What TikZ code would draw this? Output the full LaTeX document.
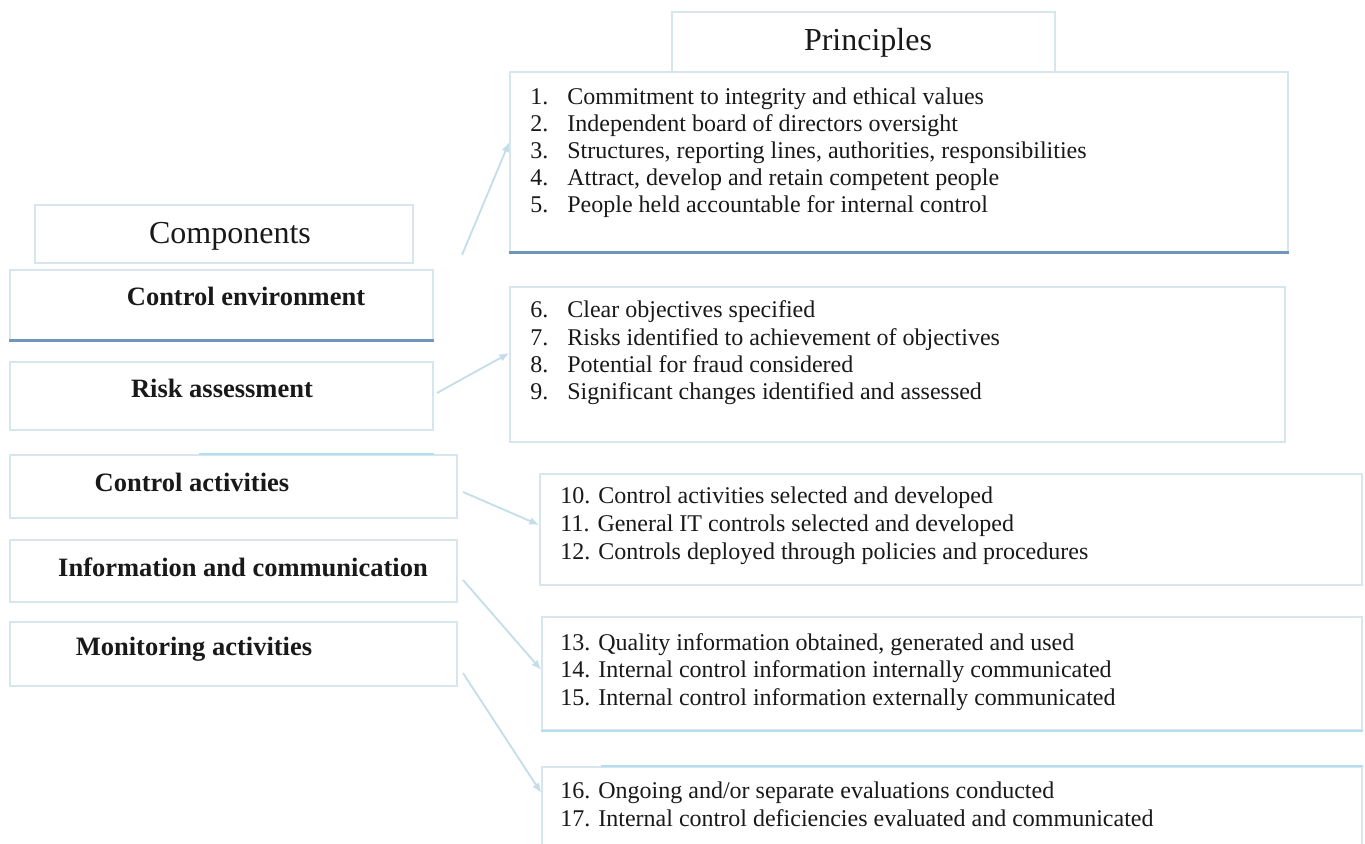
\documentclass[tikz,border=0pt]{standalone}
\usepackage{fontspec}
\setmainfont{Liberation Serif}
\usetikzlibrary{arrows.meta}
\definecolor{boxline}{RGB}{214,230,236}
\definecolor{cyanline}{RGB}{178,222,240}
\definecolor{shadeline}{RGB}{112,150,185}
\definecolor{linkline}{RGB}{196,222,233}
\definecolor{ink}{RGB}{25,25,25}
\newcommand{\itm}[1]{\makebox[18.5pt][l]{#1}}
\tikzset{
  box/.style={draw=boxline, line width=0.7pt, fill=white, inner sep=0pt},
  headtext/.style={inner sep=0pt, text=ink, font=\fontsize{16}{19}\selectfont},
  comptext/.style={inner sep=0pt, text=ink, font=\fontsize{13.25}{16}\selectfont\bfseries},
  listtext/.style={inner sep=0pt, anchor=base west, text=ink, font=\fontsize{12}{13.75}\selectfont},
  link/.style={draw=linkline, line width=0.9pt, -{Latex[length=5pt,width=4pt]}}
}
\begin{document}
\begin{tikzpicture}[x=0.5pt, y=-0.5pt]
\useasboundingbox[fill=white] (0,0) rectangle (1365,844);

% principle boxes
\node[box, minimum width=191.5pt, minimum height=30pt] (ph) at (863.5,42) {};
\node[box, minimum width=389pt, minimum height=90pt] (p1) at (899,162) {};
\node[box, minimum width=387.5pt, minimum height=77.5pt] (p2) at (897.5,364.5) {};
\node[box, minimum width=411pt, minimum height=55.5pt] (p3) at (951,529.5) {};
\node[box, minimum width=410pt, minimum height=56.5pt] (p4) at (952,673.5) {};
\node[box, minimum width=410pt, minimum height=51.5pt] (p5) at (952,818.5) {};

% component boxes
\node[box, minimum width=189pt, minimum height=29pt] (ch) at (224,234) {};
\node[box, minimum width=211.5pt, minimum height=35pt] (ce) at (221.5,305) {};
\node[box, minimum width=211.5pt, minimum height=34pt] (ra) at (221.5,396) {};
\node[box, minimum width=223.5pt, minimum height=31.5pt] (ca) at (233.5,486.5) {};
\node[box, minimum width=223.5pt, minimum height=31pt] (ic) at (233.5,571) {};
\node[box, minimum width=223.5pt, minimum height=32pt] (ma) at (233.5,654) {};

% accent edges
\draw[shadeline, line width=1.3pt] (ce.south west) -- (ce.south east);
\draw[shadeline, line width=1.3pt] (p1.south west) -- (p1.south east);
\draw[cyanline, line width=0.9pt] (p4.south west) -- (p4.south east);
\draw[cyanline, line width=0.9pt] ([xshift=30pt]p5.north west) -- (p5.north east);
\draw[cyanline, line width=0.9pt] ([xshift=95pt]ca.north west) -- ([xshift=-12pt]ca.north east);

% headings
\node[headtext] (pht) at (868,43) {Principles};
\node[headtext] (cht) at (230,236) {Components};

% component labels
\node[comptext] (cet) at (246,296) {Control environment};
\node[comptext] (rat) at (222,388) {Risk assessment};
\node[comptext] (cat) at (192,482) {Control activities};
\node[comptext] (ict) at (243,567) {Information and communication};
\node[comptext] (mat) at (194,649) {Monitoring activities};

% principle lists
\node[listtext, font=\fontsize{12}{13.5}\selectfont] (l1) at (530,105) {\begin{tabular}[t]{@{}l@{}}
\itm{1.}Commitment to integrity and ethical values\\
\itm{2.}Independent board of directors oversight\\
\itm{3.}Structures, reporting lines, authorities, responsibilities\\
\itm{4.}Attract, develop and retain competent people\\
\itm{5.}People held accountable for internal control
\end{tabular}};
\node[listtext, font=\fontsize{12}{13.65}\selectfont] (l2) at (530,318) {\begin{tabular}[t]{@{}l@{}}
\itm{6.}Clear objectives specified\\
\itm{7.}Risks identified to achievement of objectives\\
\itm{8.}Potential for fraud considered\\
\itm{9.}Significant changes identified and assessed
\end{tabular}};
\node[listtext, font=\fontsize{12}{14.1}\selectfont] (l3) at (560,503) {\begin{tabular}[t]{@{}l@{}}
10. Control activities selected and developed\\
11. General IT controls selected and developed\\
12. Controls deployed through policies and procedures
\end{tabular}};
\node[listtext] (l4) at (560,650) {\begin{tabular}[t]{@{}l@{}}
13. Quality information obtained, generated and used\\
14. Internal control information internally communicated\\
15. Internal control information externally communicated
\end{tabular}};
\node[listtext, font=\fontsize{12}{14.3}\selectfont] (l5) at (560,798) {\begin{tabular}[t]{@{}l@{}}
16. Ongoing and/or separate evaluations conducted\\
17. Internal control deficiencies evaluated and communicated
\end{tabular}};

% connectors from components to principles
\coordinate (s1) at (462,255);
\coordinate (s2) at (437,393);
\coordinate (s3) at (463,492);
\coordinate (s4) at (463,580);
\coordinate (s5) at (463,673);
\draw[link] (s1) -- ([yshift=10pt]p1.west);
\draw[link] (s2) -- ([yshift=5.75pt]p2.west);
\draw[link] (s3) -- ([yshift=2.25pt]p3.west);
\draw[link] (s4) -- ([yshift=1.75pt]p4.west);
\draw[link] (s5) -- ([yshift=12.75pt]p5.west);
\end{tikzpicture}
\end{document}
